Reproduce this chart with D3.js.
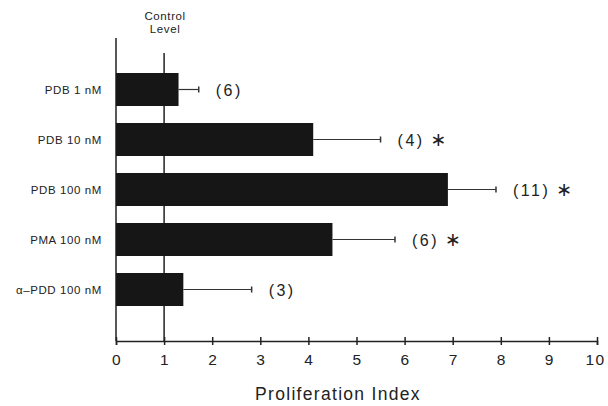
<!DOCTYPE html>
<html><head><meta charset="utf-8">
<script src="https://cdn.jsdelivr.net/npm/d3@7"></script>
<style>body{margin:0;background:#fff}svg{display:block}text{font-family:"Liberation Sans",Arial,sans-serif;fill:#222}</style>
</head><body><svg id="c" width="608" height="406"></svg>
<script>
const categories = ["PDB 1 nM","PDB 10 nM","PDB 100 nM","PMA 100 nM","\u03b1\u2013PDD 100 nM"];
const means = [1.3, 4.1, 6.9, 4.5, 1.4];
const errors = [0.42, 1.4, 1.0, 1.3, 1.42];
const nCounts = ["(6)","(4)","(11)","(6)","(3)"];
const significant = [false, true, true, true, false];
const xTicks = [0,1,2,3,4,5,6,7,8,9,10];
const controlLevel = 1;

const svg = d3.select("#c");
const x = d3.scaleLinear().domain([0,10]).range([116,597]);
const y = d3.scaleBand().domain(categories).range([64.5,314.5]).paddingInner(0.34).paddingOuter(0.17);
const axisY = 341;
const ink = "#222";

// y axis line
svg.append("line").attr("x1",x(0)).attr("x2",x(0)).attr("y1",38).attr("y2",axisY)
  .attr("stroke",ink).attr("stroke-width",1.5);
// control line
svg.append("line").attr("x1",x(controlLevel)).attr("x2",x(controlLevel)).attr("y1",53).attr("y2",axisY)
  .attr("stroke",ink).attr("stroke-width",1.5);
svg.append("text").attr("x",x(controlLevel)+1).attr("y",20).attr("text-anchor","middle")
  .attr("font-size",11.5).attr("letter-spacing",0.6).text("Control");
svg.append("text").attr("x",x(controlLevel)+1).attr("y",33).attr("text-anchor","middle")
  .attr("font-size",11.5).attr("letter-spacing",0.6).text("Level");

// x axis
const gx = svg.append("g").attr("transform",`translate(0,${axisY})`)
  .call(d3.axisBottom(x).tickValues(xTicks).tickFormat(d3.format("d")).tickSize(4).tickPadding(9));
gx.select(".domain").attr("stroke",ink).attr("stroke-width",1.5);
gx.selectAll(".tick line").attr("y1",-4).attr("y2",4).attr("stroke",ink).attr("stroke-width",1.5);
gx.selectAll(".tick text").attr("font-size",15.5).attr("letter-spacing",1.5)
  .attr("font-family","'Liberation Sans',Arial,sans-serif").attr("fill",ink)
  .attr("dx",d=>d===10?-2:0.5);

svg.append("text").attr("x",338).attr("y",400).attr("text-anchor","middle")
  .attr("font-size",17.5).attr("letter-spacing",1.3).text("Proliferation Index");

// bars
svg.selectAll("rect.bar").data(categories).join("rect").attr("class","bar")
  .attr("x",x(0)).attr("y",d=>y(d)).attr("height",y.bandwidth())
  .attr("width",(d,i)=>x(means[i])-x(0)).attr("fill","#161616");

// error bars, labels
categories.forEach((c,i)=>{
  const cy = y(c)+y.bandwidth()/2;
  const xe = x(means[i]+errors[i]);
  svg.append("line").attr("x1",x(means[i])).attr("x2",xe).attr("y1",cy).attr("y2",cy)
    .attr("stroke","#333").attr("stroke-width",1.2);
  svg.append("line").attr("x1",xe).attr("x2",xe).attr("y1",cy-3).attr("y2",cy+3)
    .attr("stroke","#333").attr("stroke-width",1.5);
  const t = svg.append("text").attr("x",xe+17).attr("y",cy+6).attr("font-size",16).attr("letter-spacing",2.5);
  t.append("tspan").text(nCounts[i]);
  if (significant[i]) {
    t.append("tspan").attr("dx",6).attr("font-family","'DejaVu Sans',sans-serif")
      .attr("font-size",19).attr("letter-spacing",0).text("\u2217");
  }
  svg.append("text").attr("x",102).attr("y",cy+4).attr("text-anchor","end")
    .attr("font-size",11.5).attr("letter-spacing",0.6).text(c);
});
</script></body></html>
